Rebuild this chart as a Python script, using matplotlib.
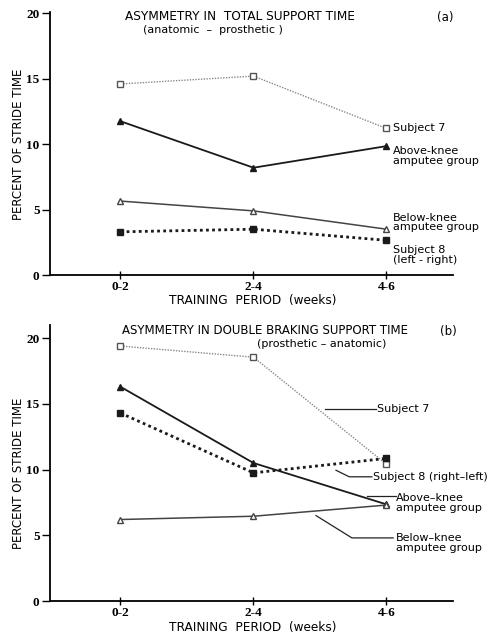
import matplotlib.pyplot as plt

periods = ["0-2", "2-4", "4-6"]
yticks = [0, 5, 10, 15, 20]

# (a) total support time asymmetry (anatomic - prosthetic)
a_subject7 = [14.6, 15.2, 11.2]
a_above_knee = [11.75, 8.2, 9.85]
a_below_knee = [5.65, 4.9, 3.5]
a_subject8 = [3.3, 3.5, 2.65]

# (b) double braking support time asymmetry (prosthetic - anatomic)
b_subject7 = [19.4, 18.55, 10.4]
b_above_knee = [16.3, 10.5, 7.35]
b_below_knee = [6.2, 6.45, 7.3]
b_subject8 = [14.3, 9.75, 10.85]

W, H = 497, 635
plt.rcParams["font.family"] = ["DejaVu Sans"]

fig = plt.figure(figsize=(W / 100, H / 100), dpi=100)

tick_font = dict(family="Liberation Serif", weight="bold", size=9.5)


def fpos(x, y):
    # pixel position -> figure fraction
    return x / W, 1 - y / H


def style_axes(ax, ytop):
    ax.set_xlim(-0.53, 2.5)
    ax.set_ylim(0, ytop)
    ax.spines["top"].set_visible(False)
    ax.spines["right"].set_visible(False)
    ax.spines["left"].set_linewidth(1.3)
    ax.spines["bottom"].set_linewidth(1.3)
    ax.tick_params(axis="y", direction="out", length=6, width=1, pad=1.5)
    ax.tick_params(axis="x", direction="inout", length=6, width=1, pad=1)
    ax.set_yticks(yticks)
    ax.set_yticklabels([str(v) for v in yticks], fontdict=tick_font)
    ax.set_xticks(range(len(periods)))
    ax.set_xticklabels(periods, fontdict=tick_font)


def draw_series(ax, s7, ak, bk, s8):
    x = range(len(periods))
    ax.plot(x, s7, color="#888888", lw=1, ls=(0, (1, 1)), marker="s",
            ms=5, mfc="white", mec="#555555", mew=1)
    ax.plot(x, ak, color="#1a1a1a", lw=1.3, marker="^", ms=5, mfc="#1a1a1a",
            mec="#1a1a1a")
    ax.plot(x, bk, color="#444444", lw=1.1, marker="^", ms=5, mfc="white",
            mec="#444444")
    ax.plot(x, s8, color="#1a1a1a", lw=2, ls=(0, (1, 1.2)), marker="s",
            ms=5, mfc="#1a1a1a", mec="#1a1a1a")


# ---- panel (a) ----
x0, y0 = fpos(50, 275)
x1, y1 = fpos(453, 12)
ax1 = fig.add_axes([x0, y0, x1 - x0, y1 - y0])
style_axes(ax1, 20.1)
draw_series(ax1, a_subject7, a_above_knee, a_below_knee, a_subject8)

fs = 8
ax1.text(2.05, 11.2, "Subject 7", fontsize=fs, va="center")
ax1.text(2.05, 9.1, "Above-knee\namputee group", fontsize=fs, va="center",
         linespacing=0.95)
ax1.text(2.05, 4.0, "Below-knee\namputee group", fontsize=fs, va="center",
         linespacing=0.95)
ax1.text(2.05, 1.5, "Subject 8\n(left - right)", fontsize=fs, va="center",
         linespacing=1.0)

fig.text(*fpos(240, 17), "ASYMMETRY IN  TOTAL SUPPORT TIME", fontsize=8.7,
         ha="center", va="center")
fig.text(*fpos(213, 30), "(anatomic  \u2013  prosthetic )", fontsize=8,
         ha="center", va="center")
fig.text(*fpos(445, 17), "(a)", fontsize=8.5, ha="center", va="center")
fig.text(*fpos(253, 300), "TRAINING  PERIOD  (weeks)", fontsize=8.7,
         ha="center", va="center")
fig.text(*fpos(19, 144), "PERCENT OF STRIDE TIME", fontsize=8.5,
         ha="center", va="center", rotation=90)

# ---- panel (b) ----
x0, y0 = fpos(50, 601)
x1, y1 = fpos(453, 325)
ax2 = fig.add_axes([x0, y0, x1 - x0, y1 - y0])
style_axes(ax2, 21)
draw_series(ax2, b_subject7, b_above_knee, b_below_knee, b_subject8)

lk = dict(color="#222222", lw=0.9)
ax2.plot([1.54, 1.92], [14.6, 14.6], **lk)
ax2.text(1.93, 14.6, "Subject 7", fontsize=fs, va="center")
ax2.plot([1.62, 1.72, 1.89], [9.95, 9.45, 9.45], **lk)
ax2.text(1.9, 9.45, "Subject 8 (right\u2013left)", fontsize=fs, va="center")
ax2.plot([1.85, 2.07], [8.0, 8.0], **lk)
ax2.text(2.07, 7.45, "Above\u2013knee\namputee group", fontsize=fs,
         va="center", linespacing=0.95)
ax2.plot([1.47, 1.74, 2.05], [6.5, 4.8, 4.8], **lk)
ax2.text(2.07, 4.4, "Below\u2013knee\namputee group", fontsize=fs,
         va="center", linespacing=0.95)

fig.text(*fpos(265, 331), "ASYMMETRY IN DOUBLE BRAKING SUPPORT TIME",
         fontsize=8.5, ha="center", va="center")
fig.text(*fpos(322, 344), "(prosthetic \u2013 anatomic)", fontsize=8,
         ha="center", va="center")
fig.text(*fpos(448, 331), "(b)", fontsize=8.5, ha="center", va="center")
fig.text(*fpos(253, 628), "TRAINING  PERIOD  (weeks)", fontsize=8.7,
         ha="center", va="center")
fig.text(*fpos(19, 473), "PERCENT OF STRIDE TIME", fontsize=8.5,
         ha="center", va="center", rotation=90)

fig.savefig("out.png", dpi=100)
